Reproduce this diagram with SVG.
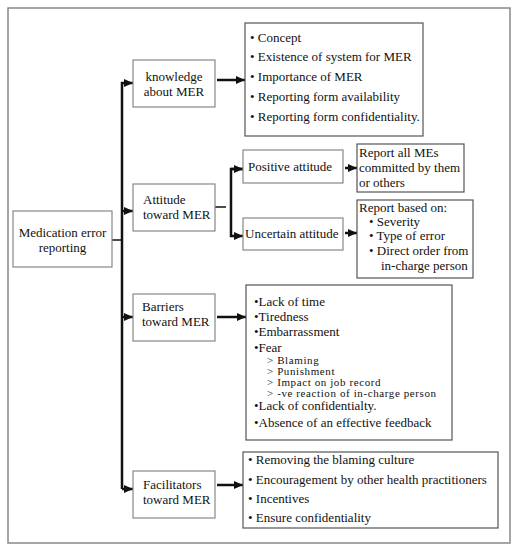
<svg xmlns="http://www.w3.org/2000/svg" width="518" height="550" viewBox="0 0 518 550">
<style>
text{font-family:"Liberation Serif","DejaVu Serif",serif;font-size:13px;fill:#111}
.sub{font-size:11px;letter-spacing:0.6px}
.box{fill:#fff;stroke:#888;stroke-width:1.2}
.lbox{fill:#fff;stroke:#555;stroke-width:1.2}
.c{fill:none;stroke:#111;stroke-width:2.5}
.thin{fill:none;stroke:#111;stroke-width:1.5}
.mid{text-anchor:middle}
</style>
<defs>
<marker id="ah" markerUnits="userSpaceOnUse" markerWidth="9" markerHeight="8" refX="9" refY="4" orient="auto">
<path d="M0,0 L9,4 L0,8 Z" fill="#111"/>
</marker>
</defs>
<rect x="8" y="8" width="502" height="535" fill="#fff" stroke="#888" stroke-width="1.5"/>
<g id="connectors">
<path class="thin" d="M112,240 H122"/>
<path class="c" d="M122,489 V83 H133" marker-end="url(#ah)"/>
<path class="c" d="M122,211 H133" marker-end="url(#ah)"/>
<path class="c" d="M122,317 H133" marker-end="url(#ah)"/>
<path class="c" d="M122,489 H133" marker-end="url(#ah)"/>
<path class="c" d="M217,80 H245" marker-end="url(#ah)"/>
<path class="thin" d="M215,207 H226"/>
<path class="c" d="M243,169 H231 V236 H243" marker-end="url(#ah)"/>
<path class="c" d="M231,169 H243" marker-end="url(#ah)"/>
<path class="c" d="M345,168 H357" marker-end="url(#ah)"/>
<path class="c" d="M345,233 H357" marker-end="url(#ah)"/>
<path class="c" d="M217,317 H246" marker-end="url(#ah)"/>
<path class="c" d="M217,485 H243" marker-end="url(#ah)"/>
</g>
<g id="medication">
<rect class="box" x="13" y="211" width="99" height="56"/>
<text class="mid" x="62.5" y="237">Medication error</text>
<text class="mid" x="62.5" y="252">reporting</text>
</g>
<g id="knowledge">
<rect class="box" x="133" y="60" width="82" height="47"/>
<text class="mid" x="174" y="81">knowledge</text>
<text class="mid" x="174" y="96">about MER</text>
</g>
<g id="knowledge-list">
<rect class="lbox" x="245" y="23" width="178" height="113"/>
<text x="250" y="42">• Concept</text>
<text x="250" y="61">• Existence of system for MER</text>
<text x="250" y="81">• Importance of MER</text>
<text x="250" y="101">• Reporting form availability</text>
<text x="250" y="121">• Reporting form confidentiality.</text>
</g>
<g id="attitude">
<rect class="box" x="133" y="184" width="82" height="47"/>
<text x="143" y="204">Attitude</text>
<text x="143" y="219">toward MER</text>
</g>
<g id="positive">
<rect class="box" x="243" y="150" width="100" height="33"/>
<text x="248" y="171">Positive attitude</text>
</g>
<g id="positive-report">
<rect class="lbox" x="357" y="144" width="107" height="48"/>
<text x="359" y="157">Report all MEs</text>
<text x="359" y="172">committed by them</text>
<text x="359" y="187">or others</text>
</g>
<g id="uncertain">
<rect class="box" x="243" y="218" width="100" height="32"/>
<text x="245" y="238">Uncertain attitude</text>
</g>
<g id="uncertain-report">
<rect class="lbox" x="357" y="200" width="116" height="78"/>
<text x="359" y="212">Report based on:</text>
<text x="369" y="226">• Severity</text>
<text x="369" y="240">• Type of error</text>
<text x="369" y="255">• Direct order from</text>
<text x="381" y="270">in-charge person</text>
</g>
<g id="barriers">
<rect class="box" x="133" y="294" width="82" height="47"/>
<text x="142" y="311">Barriers</text>
<text x="142" y="326">toward MER</text>
</g>
<g id="barriers-list">
<rect class="lbox" x="246" y="285" width="206" height="155"/>
<text x="254" y="306">•Lack of time</text>
<text x="254" y="321">•Tiredness</text>
<text x="254" y="336">•Embarrassment</text>
<text x="254" y="352">•Fear</text>
<text class="sub" x="267" y="364">&gt; Blaming</text>
<text class="sub" x="267" y="375">&gt; Punishment</text>
<text class="sub" x="267" y="386">&gt; Impact on job record</text>
<text class="sub" x="267" y="397">&gt; -ve reaction of in-charge person</text>
<text x="254" y="410">•Lack of confidentialty.</text>
<text x="254" y="427">•Absence of an effective feedback</text>
</g>
<g id="facilitators">
<rect class="box" x="133" y="471" width="82" height="47"/>
<text x="143" y="489">Facilitators</text>
<text x="143" y="504">toward MER</text>
</g>
<g id="facilitators-list">
<rect class="lbox" x="243" y="452" width="255" height="76"/>
<text x="248" y="464">• Removing the blaming culture</text>
<text x="248" y="484">• Encouragement by other health practitioners</text>
<text x="248" y="503">• Incentives</text>
<text x="248" y="522">• Ensure confidentiality</text>
</g>
</svg>
